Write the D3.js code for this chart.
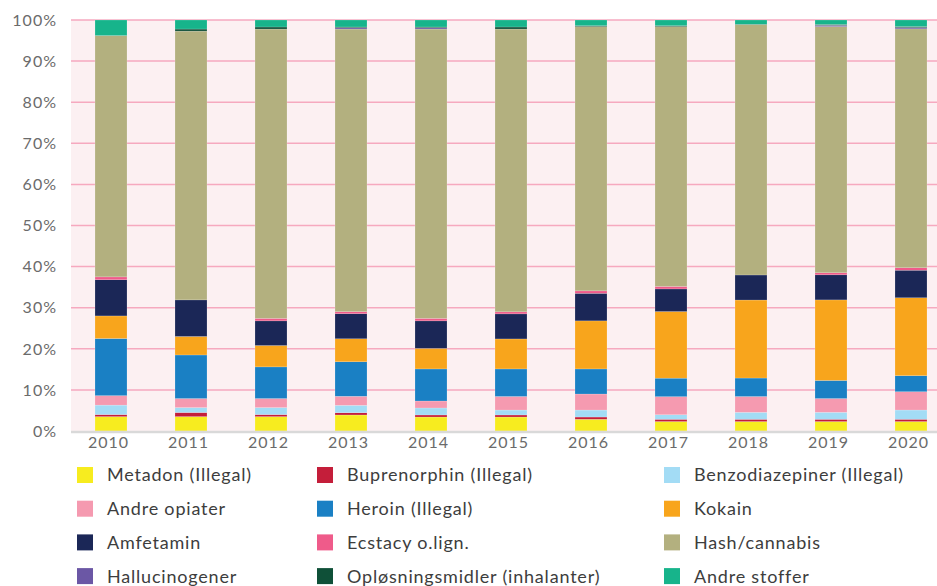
<!DOCTYPE html>
<html>
<head>
<meta charset="utf-8">
<script src="https://cdn.jsdelivr.net/npm/d3@7"></script>
<style>
  html, body { margin: 0; padding: 0; background: #fff; }
  svg { display: block; font-family: Lato, "Open Sans", sans-serif; }
</style>
</head>
<body>
<div id="chart"></div>
<script>
// years and share (%) per substance
const years = ["2010", "2011", "2012", "2013", "2014", "2015", "2016", "2017", "2018", "2019", "2020"];
const metadon      = [3.5, 3.5, 3.5, 3.9, 3.4, 3.4, 2.85, 2.3, 2.3, 2.3, 2.3];
const buprenorphin = [0.5, 1.0, 0.5, 0.55, 0.5, 0.5, 0.55, 0.55, 0.55, 0.55, 0.55];
const benzo        = [2.3, 1.2, 1.7, 1.8, 1.7, 1.2, 1.7, 1.1, 1.7, 1.7, 2.25];
const andreOpiater = [2.3, 2.2, 2.2, 2.2, 1.7, 3.3, 3.9, 4.4, 3.85, 3.35, 4.45];
const heroin       = [13.9, 10.6, 7.7, 8.4, 7.8, 6.7, 6.1, 4.5, 4.5, 4.4, 3.9];
const kokain       = [5.5, 4.5, 5.2, 5.6, 5.0, 7.3, 11.7, 16.2, 19.0, 19.6, 18.95];
const amfetamin    = [8.8, 8.9, 6.0, 6.1, 6.7, 6.1, 6.7, 5.5, 6.1, 6.1, 6.7];
const ecstacy      = [0.7, 0, 0.6, 0.5, 0.6, 0.5, 0.6, 0.6, 0, 0.5, 0.6];
const hash         = [58.7, 65.4, 70.4, 68.8, 70.4, 68.8, 64.3, 63.2, 60.95, 59.9, 58.1];
const halluc       = [0, 0, 0, 0.3, 0.3, 0, 0, 0, 0, 0.3, 0.3];
const oplos        = [0, 0.5, 0.5, 0.2, 0.2, 0.5, 0.2, 0.2, 0.1, 0.2, 0.25];
const andreStoffer = [3.8, 2.2, 1.7, 1.7, 1.7, 1.7, 1.4, 1.4, 1.05, 1.1, 1.6];
const yTicks = [0, 0.1, 0.2, 0.3, 0.4, 0.5, 0.6, 0.7, 0.8, 0.9, 1];

const series = [
  { name: "Metadon (Illegal)", values: metadon, color: "#f7ec1f" },
  { name: "Buprenorphin (Illegal)", values: buprenorphin, color: "#c41e3a" },
  { name: "Benzodiazepiner (Illegal)", values: benzo, color: "#a3dcf5" },
  { name: "Andre opiater", values: andreOpiater, color: "#f59ab0" },
  { name: "Heroin (Illegal)", values: heroin, color: "#1a80c4" },
  { name: "Kokain", values: kokain, color: "#f8a51c" },
  { name: "Amfetamin", values: amfetamin, color: "#1b2757" },
  { name: "Ecstacy o.lign.", values: ecstacy, color: "#ef5b8a" },
  { name: "Hash/cannabis", values: hash, color: "#b3b07f" },
  { name: "Hallucinogener", values: halluc, color: "#6b57a5" },
  { name: "Opløsningsmidler (inhalanter)", values: oplos, color: "#0f5038" },
  { name: "Andre stoffer", values: andreStoffer, color: "#17b48b" }
];

const W = 937, H = 586;
const plotL = 71, plotR = 951, plotT = 20, plotB = 431;

const svg = d3.select("#chart").append("svg")
  .attr("width", W).attr("height", H);

// table for d3.stack
const rows = years.map((yr, i) => {
  const r = { year: yr };
  series.forEach(s => { r[s.name] = s.values[i]; });
  return r;
});

const stacked = d3.stack()
  .keys(series.map(s => s.name))
  .offset(d3.stackOffsetExpand)(rows);

const x = d3.scaleBand()
  .domain(years)
  .range([plotL, plotR])
  .paddingInner(0.6)
  .paddingOuter(0.3);

const y = d3.scaleLinear().domain([0, 1]).range([plotB, plotT]);

// plot background
svg.append("rect")
  .attr("x", plotL).attr("y", plotT)
  .attr("width", plotR - plotL).attr("height", plotB - plotT)
  .attr("fill", "#fcf0f2");

// grid lines
svg.append("g")
  .selectAll("line")
  .data(yTicks.filter(t => t > 0))
  .enter().append("line")
  .attr("x1", plotL).attr("x2", plotR)
  .attr("y1", d => y(d)).attr("y2", d => y(d))
  .attr("stroke", "#f6a9bf")
  .attr("stroke-width", 1.5);

// y tick labels
svg.append("g")
  .selectAll("text")
  .data(yTicks)
  .enter().append("text")
  .attr("x", 57)
  .attr("y", d => y(d))
  .attr("dy", "0.36em")
  .attr("text-anchor", "end")
  .attr("font-size", 16)
  .attr("letter-spacing", 1)
  .attr("fill", "#6b6b6b")
  .text(d => Math.round(d * 100) + "%");

// bars
const layer = svg.append("g")
  .selectAll("g")
  .data(stacked)
  .enter().append("g")
  .attr("fill", (d, i) => series[i].color);

layer.selectAll("rect")
  .data(d => d)
  .enter().append("rect")
  .attr("x", d => x(d.data.year))
  .attr("y", d => y(d[1]))
  .attr("width", x.bandwidth())
  .attr("height", d => Math.max(0, y(d[0]) - y(d[1])))
  .attr("stroke", "rgba(255,255,255,0.35)")
  .attr("stroke-width", 0.5);

// baseline
svg.append("line")
  .attr("x1", plotL).attr("x2", plotR)
  .attr("y1", plotB + 1).attr("y2", plotB + 1)
  .attr("stroke", "#d9d9d9")
  .attr("stroke-width", 2.5);

// x tick labels
svg.append("g")
  .selectAll("text")
  .data(years)
  .enter().append("text")
  .attr("x", d => x(d) + x.bandwidth() / 2 - 2.5)
  .attr("y", 448)
  .attr("text-anchor", "middle")
  .attr("font-size", 16)
  .attr("letter-spacing", 1)
  .attr("fill", "#6b6b6b")
  .text(d => d);

// legend, 3 columns x 4 rows
const colX = [77, 317, 664];
const legend = svg.append("g")
  .selectAll("g")
  .data(series)
  .enter().append("g")
  .attr("transform", (d, i) => `translate(${colX[i % 3]},${475 + Math.floor(i / 3) * 33.7})`);

legend.append("rect")
  .attr("x", 0).attr("y", -8)
  .attr("width", 16).attr("height", 16)
  .attr("fill", d => d.color);

legend.append("text")
  .attr("x", 30)
  .attr("y", 0)
  .attr("dy", "0.36em")
  .attr("font-size", 18)
  .attr("letter-spacing", 0.8)
  .attr("fill", "#3d3d3d")
  .text(d => d.name);
</script>
</body>
</html>
